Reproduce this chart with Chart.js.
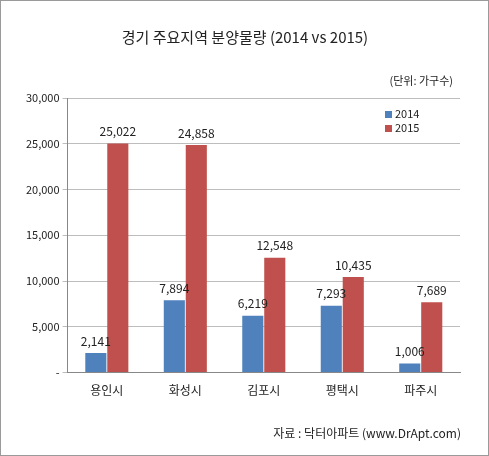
<!DOCTYPE html>
<html>
<head>
<meta charset="utf-8">
<script src="https://cdn.jsdelivr.net/npm/chart.js@4"></script>
<style>
  html, body { margin: 0; padding: 0; background: #fff; }
  #wrap { width: 487px; height: 454px; border: 1px solid #9a9a9a; }
</style>
</head>
<body>
<div id="wrap"><canvas id="c" width="487" height="454"></canvas></div>
<script>
const categories = ["용인시", "화성시", "김포시", "평택시", "파주시"];
const values2014 = [2141, 7894, 6219, 7293, 1006];
const values2015 = [25022, 24858, 12548, 10435, 7689];

const FONT = "'Noto Sans CJK KR', 'DejaVu Sans', sans-serif";

// 제목, 단위, 범례, 출처, 막대 위 숫자
const extraText = {
    id: "extraText",
    afterDatasetsDraw(chart) {
        const ctx = chart.ctx;
        ctx.save();
        ctx.fillStyle = "#222";
        ctx.textAlign = "center";
        ctx.textBaseline = "middle";
        ctx.font = "15px " + FONT;
        ctx.fillText("경기 주요지역 분양물량 (2014 vs 2015)", 244, 36);

        ctx.font = "11px " + FONT;
        ctx.textAlign = "right";
        ctx.fillText("(단위: 가구수)", 452, 80);
        ctx.font = "12px " + FONT;
        ctx.fillText("자료 : 닥터아파트 (www.DrApt.com)", 460, 432);

        // 범례
        ctx.textAlign = "left";
        ctx.font = "11px " + FONT;
        chart.data.datasets.forEach((ds, i) => {
            const y = 113 + i * 14;
            ctx.fillStyle = ds.backgroundColor;
            ctx.fillRect(384, y - 3, 7, 7);
            ctx.fillStyle = "#222";
            ctx.fillText(ds.label, 394, y);
        });

        ctx.font = "12px " + FONT;
        ctx.textAlign = "center";
        ctx.textBaseline = "bottom";
        chart.data.datasets.forEach((ds, i) => {
            chart.getDatasetMeta(i).data.forEach((bar, j) => {
                ctx.fillText(ds.data[j].toLocaleString("en-US"), bar.x, bar.y - 6);
            });
        });
        ctx.restore();
    }
};

new Chart(document.getElementById("c"), {
    type: "bar",
    data: {
        labels: categories,
        datasets: [
            { label: "2014", data: values2014, backgroundColor: "#4F81BD" },
            { label: "2015", data: values2015, backgroundColor: "#C0504D" }
        ]
    },
    options: {
        responsive: false,
        animation: false,
        layout: { padding: { top: 97, left: 22, right: 28, bottom: 54 } },
        datasets: { bar: { categoryPercentage: 0.56, barPercentage: 0.96 } },
        plugins: {
            legend: { display: false },
            tooltip: { enabled: false }
        },
        scales: {
            x: {
                grid: { display: false },
                border: { color: "#888" },
                ticks: { font: { size: 12, family: FONT }, color: "#222" }
            },
            y: {
                min: 0, max: 30000,
                ticks: {
                    stepSize: 5000,
                    font: { size: 11, family: FONT }, color: "#222",
                    callback: v => v === 0 ? "-" : v.toLocaleString("en-US")
                },
                grid: { color: "#bdbdbd", drawTicks: true, tickLength: 5 },
                border: { color: "#888" }
            }
        }
    },
    plugins: [extraText]
});
</script>
</body>
</html>
